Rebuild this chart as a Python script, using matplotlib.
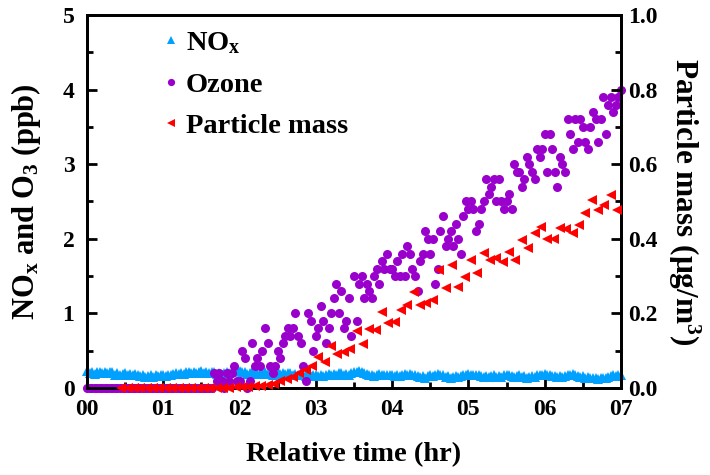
import numpy as np
import matplotlib
matplotlib.use("Agg")
import matplotlib.pyplot as plt
from matplotlib.ticker import MultipleLocator

plt.rcParams['font.family'] = 'Liberation Serif'
plt.rcParams['font.weight'] = 'bold'
plt.rcParams['mathtext.fontset'] = 'custom'
plt.rcParams['mathtext.rm'] = 'Liberation Serif:bold'
plt.rcParams['mathtext.it'] = 'Liberation Serif:bold'
plt.rcParams['mathtext.bf'] = 'Liberation Serif:bold'
plt.rcParams['mathtext.default'] = 'rm'

# ---------------- datos ----------------
# NOx y O3 muestreados cada 2 min (0 a 7 h)
t_gas = np.linspace(0, 7, 211)

nox = [0.23, 0.20, 0.22, 0.19, 0.21, 0.22, 0.20, 0.21, 0.20, 0.22,
       0.21, 0.18, 0.20, 0.17, 0.19, 0.20, 0.18, 0.19, 0.18, 0.19,
       0.18, 0.16, 0.17, 0.15, 0.16, 0.18, 0.15, 0.17, 0.16, 0.17,
       0.18, 0.16, 0.18, 0.17, 0.19, 0.20, 0.19, 0.20, 0.19, 0.21,
       0.22, 0.20, 0.22, 0.20, 0.21, 0.23, 0.20, 0.21, 0.20, 0.22,
       0.21, 0.19, 0.20, 0.18, 0.20, 0.21, 0.20, 0.22, 0.23, 0.24,
       0.23, 0.21, 0.21, 0.19, 0.20, 0.21, 0.19, 0.20, 0.19, 0.20,
       0.21, 0.19, 0.20, 0.18, 0.20, 0.21, 0.19, 0.20, 0.19, 0.20,
       0.20, 0.18, 0.19, 0.17, 0.18, 0.19, 0.16, 0.17, 0.16, 0.17,
       0.18, 0.16, 0.17, 0.16, 0.18, 0.19, 0.18, 0.19, 0.18, 0.20,
       0.20, 0.18, 0.19, 0.18, 0.20, 0.21, 0.22, 0.23, 0.21, 0.20,
       0.19, 0.17, 0.18, 0.16, 0.18, 0.19, 0.17, 0.18, 0.17, 0.18,
       0.17, 0.16, 0.17, 0.16, 0.18, 0.19, 0.18, 0.19, 0.17, 0.17,
       0.16, 0.15, 0.16, 0.14, 0.16, 0.17, 0.16, 0.18, 0.19, 0.18,
       0.17, 0.15, 0.16, 0.14, 0.15, 0.16, 0.15, 0.16, 0.17, 0.18,
       0.19, 0.17, 0.18, 0.17, 0.17, 0.16, 0.15, 0.16, 0.15, 0.16,
       0.17, 0.15, 0.16, 0.15, 0.17, 0.18, 0.17, 0.16, 0.15, 0.16,
       0.17, 0.15, 0.16, 0.14, 0.15, 0.16, 0.15, 0.17, 0.18, 0.18,
       0.19, 0.17, 0.18, 0.16, 0.16, 0.15, 0.16, 0.15, 0.16, 0.17,
       0.18, 0.19, 0.17, 0.16, 0.15, 0.16, 0.14, 0.15, 0.14, 0.14,
       0.13, 0.12, 0.13, 0.13, 0.14, 0.15, 0.16, 0.17, 0.16, 0.17,
       0.18]

ozone = [0.0, 0.0, 0.0, 0.0, 0.0, 0.0, 0.0, 0.0, 0.0, 0.0,
         0.0, 0.0, 0.0, 0.0, 0.0, 0.0, 0.0, 0.0, 0.0, 0.0,
         0.0, 0.0, 0.0, 0.0, 0.0, 0.0, 0.0, 0.0, 0.0, 0.0,
         0.0, 0.0, 0.0, 0.0, 0.0, 0.0, 0.0, 0.0, 0.0, 0.0,
         0.0, 0.0, 0.0, 0.0, 0.0, 0.0, 0.0, 0.0, 0.0, 0.0,
         0.2, 0.1, 0.2, 0.1, 0.0, 0.2, 0.1, 0.2, 0.3, 0.1,
         0.1, 0.5, 0.4, 0.0, 0.1, 0.6, 0.3, 0.4, 0.3, 0.5,
         0.8, 0.6, 0.3, 0.2, 0.3, 0.5, 0.4, 0.6, 0.7, 0.8,
         0.7, 0.8, 1.0, 0.7, 0.6, 0.3, 0.1, 1.0, 0.9, 0.5,
         0.7, 0.8, 1.1, 0.9, 0.6, 0.8, 1.0, 1.2, 1.4, 1.0,
         1.3, 0.8, 0.9, 1.2, 0.7, 1.5, 0.9, 1.4, 1.5, 1.2,
         1.4, 1.3, 1.2, 1.5, 1.6, 1.4, 1.7, 1.6, 1.8, 1.6,
         1.6, 1.5, 1.7, 1.5, 1.8, 1.5, 1.9, 1.8, 1.6, 1.5,
         1.3, 1.7, 1.8, 2.1, 2.0, 1.8, 2.0, 1.4, 1.6, 2.1,
         2.3, 1.9, 2.0, 2.1, 1.9, 2.2, 2.0, 1.8, 2.3, 2.5,
         2.4, 2.5, 2.4, 2.1, 2.2, 2.4, 2.5, 2.8, 2.6, 2.7,
         2.8, 2.5, 2.8, 2.5, 2.4, 2.5, 2.6, 2.4, 3.0, 2.9,
         2.9, 2.7, 2.8, 3.1, 3.0, 2.9, 2.8, 3.2, 3.1, 3.2,
         3.4, 2.9, 3.4, 3.2, 2.9, 2.7, 3.1, 3.0, 2.9, 3.6,
         3.4, 3.2, 3.6, 3.3, 3.6, 3.5, 3.3, 3.2, 3.5, 3.7,
         3.6, 3.3, 3.6, 3.9, 3.4, 3.8, 3.9, 3.7, 3.8, 3.9,
         4.0]

# masa de particulas cada 5 min (eje derecho)
t_pm = np.linspace(0.45, 6.95, 79)
pm = [0.0, 0.0, 0.0, 0.0, 0.0, 0.0, 0.0, 0.0, 0.0, 0.0,
      0.0, 0.0, 0.0, 0.0, 0.0, 0.0, 0.001, 0.001, 0.002, 0.002,
      0.003, 0.004, 0.006,
      0.008, 0.012, 0.018, 0.025, 0.030, 0.040, 0.048, 0.060,
      0.083, 0.070, 0.113, 0.091, 0.097, 0.105, 0.154, 0.118,
      0.158, 0.155, 0.205, 0.174,
      0.178, 0.209, 0.222, 0.258, 0.222, 0.227, 0.236, 0.316,
      0.268, 0.330, 0.272, 0.298,
      0.343, 0.308, 0.362, 0.343, 0.348, 0.339, 0.365, 0.343,
      0.397, 0.375, 0.415, 0.432,
      0.399, 0.399, 0.429, 0.426, 0.415, 0.437, 0.469, 0.504,
      0.477, 0.490, 0.517, 0.477]

xticks = [0, 1, 2, 3, 4, 5, 6, 7]
xticklabels = ['00', '01', '02', '03', '04', '05', '06', '07']

# ---------------- grafico ----------------
fig = plt.figure(figsize=(7.1, 4.75), dpi=100)
ax = fig.add_axes([0.1225, 0.1832, 0.7521, 0.7852])
ax2 = ax.twinx()

p1, = ax.plot(t_gas, nox, '^', color='#00A0FF', ms=6.5, mew=0, label='NO$_x$', clip_on=False, zorder=2)
p2, = ax.plot(t_gas, ozone, 'o', color='#9900CC', ms=6.5, mew=0, label='Ozone', clip_on=False, zorder=3)
p3, = ax2.plot(t_pm, pm, '<', color='#FF0000', ms=7.5, mew=0, label='Particle mass', clip_on=False, zorder=4)

ax.set_xlim(0, 7)
ax.set_ylim(0, 5)
ax2.set_ylim(0, 1.0)
ax.set_xticks(xticks)
ax.set_xticklabels(xticklabels)
ax.xaxis.set_minor_locator(MultipleLocator(0.5))
ax.yaxis.set_major_locator(MultipleLocator(1))
ax.yaxis.set_minor_locator(MultipleLocator(0.5))
ax2.yaxis.set_major_locator(MultipleLocator(0.2))
ax2.yaxis.set_minor_locator(MultipleLocator(0.1))
ax2.set_yticklabels([f'{v:.1f}' for v in ax2.get_yticks()])

for a in (ax, ax2):
    for s in a.spines.values():
        s.set_linewidth(2)
    a.tick_params(which='major', direction='in', length=7, width=2, labelsize=17)
    a.tick_params(which='minor', direction='in', length=4, width=2)
ax.tick_params(axis='both', which='both', top=False, right=False)
ax.tick_params(axis='x', pad=8)
ax.tick_params(axis='y', pad=9)
ax2.tick_params(axis='y', pad=5)

ax.set_xlabel('Relative time (hr)', fontsize=20.5, fontweight='bold', labelpad=16)
ax.set_ylabel('NO$_x$ and O$_3$ (ppb)', fontsize=22, fontweight='bold', labelpad=14)
ax2.set_ylabel('Particle mass (\u03bcg/m$^3$)', fontsize=22.5, fontweight='bold', rotation=270, labelpad=32)

leg = ax2.legend(handles=[p1, p2, p3], loc='upper left', bbox_to_anchor=(0.11, 0.99),
                 frameon=False, fontsize=20.5, handletextpad=0.0, labelspacing=0.55,
                 handlelength=1.0, borderaxespad=0, markerscale=0.8)

fig.savefig('out.png', dpi=100)
